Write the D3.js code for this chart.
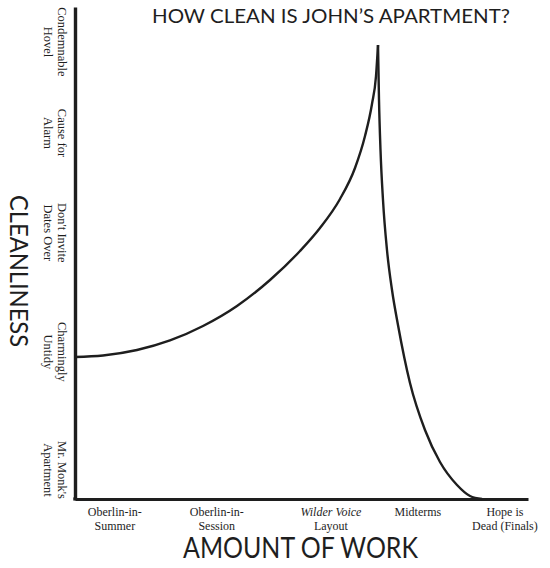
<!DOCTYPE html>
<html><head><meta charset="utf-8">
<script src="https://cdn.jsdelivr.net/npm/d3@7"></script>
<style>body{margin:0;background:#fff}svg{display:block}</style>
</head><body><svg id="c" width="550" height="568"></svg>
<script>
// ---- data ----
const xCategories = [["Oberlin-in-","Summer"],["Oberlin-in-","Session"],["Wilder Voice","Layout"],["Midterms"],["Hope is","Dead (Finals)"]];
const xCategoryPos = [8.8, 31.3, 56.5, 75.7, 94.9];
const yCategories = [["Mr. Monk's","Apartment"],["Charmingly","Untidy"],["Don't Invite","Dates Over"],["Cause for","Alarm"],["Condemnable","Hovel"]];
const yCategoryPos = [5.9, 29.9, 54.1, 74.4, 92.9];
// rising branch (work, cleanliness)
const riseWork  = [0, 6.18, 13.69, 20.97, 28.26, 35.76, 43.05, 49.67, 54.08, 58.50, 61.81, 64.02, 65.56, 66.45, 66.89];
const riseClean = [28.86, 29.17, 30.28, 32.22, 35.16, 39.23, 44.51, 50.41, 55.08, 60.98, 67.28, 73.78, 80.28, 85.98, 92.28];
// falling branch
const fallWork  = [66.89, 67.11, 67.44, 67.99, 68.87, 69.98, 71.30, 73.95, 77.26, 80.57, 84.33, 87.20, 89.85];
const fallClean = [92.28, 81.10, 70.93, 60.77, 50.61, 42.48, 35.37, 23.58, 14.02, 7.52, 2.85, 0.61, 0];
const title = "HOW CLEAN IS JOHN\u2019S APARTMENT?";
const xTitle = "AMOUNT OF WORK";
const yTitle = "CLEANLINESS";

// ---- drawing ----
const svg = d3.select("#c");
const ink = "#1e1e1e";
const x = d3.scaleLinear().domain([0,100]).range([75,528]);
const y = d3.scaleLinear().domain([0,100]).range([499,7]);
const sans = "Lato, 'Open Sans', sans-serif";
const serif = "'Liberation Serif', 'DejaVu Serif', serif";

// axes (lines only)
const gx = svg.append("g").attr("transform",`translate(0,${y(0)})`)
  .call(d3.axisBottom(x).tickValues([]).tickSize(0).tickSizeOuter(0));
gx.select(".domain").attr("stroke",ink).attr("stroke-width",3.2);
const gy = svg.append("g").attr("transform",`translate(${x(0)},0)`)
  .call(d3.axisLeft(y).tickValues([]).tickSize(0).tickSizeOuter(0));
gy.select(".domain").attr("stroke",ink).attr("stroke-width",3.4);
svg.append("rect").attr("x",x(0)-1.7).attr("y",y(0)-1.6).attr("width",3.4).attr("height",3.2).attr("fill",ink);

// curve
const line = d3.line().x(d=>x(d[0])).y(d=>y(d[1])).curve(d3.curveMonotoneX);
const rise = riseWork.map((w,i)=>[w,riseClean[i]]);
const fall = fallWork.map((w,i)=>[w,fallClean[i]]);
[rise,fall].forEach(s=>{
  svg.append("path").attr("d",line(s)).attr("fill","none").attr("stroke",ink)
    .attr("stroke-width",2.4).attr("stroke-linejoin","round").attr("stroke-linecap","butt");
});

// x labels
xCategories.forEach((lines,i)=>{
  const t = svg.append("text").attr("text-anchor","middle").attr("font-family",serif)
    .attr("font-size",12).attr("fill",ink);
  lines.forEach((l,j)=>{
    const ts = t.append("tspan").attr("x",x(xCategoryPos[i])).attr("y",516+j*13.5).text(l);
    if(l==="Wilder Voice") ts.attr("font-style","italic");
  });
});

// y labels (rotated, reading downward)
yCategories.forEach((lines,i)=>{
  lines.forEach((l,j)=>{
    svg.append("text").attr("transform",`translate(${58-j*14.5},${y(yCategoryPos[i])}) rotate(90)`)
      .attr("text-anchor","middle").attr("font-family",serif).attr("font-size",12.5)
      .attr("fill",ink).text(l);
  });
});

// titles
svg.append("text").attr("x",152).attr("y",23).attr("font-family",sans).attr("font-size",19)
  .attr("fill",ink).attr("textLength",358).attr("lengthAdjust","spacingAndGlyphs").text(title);
svg.append("text").attr("x",183).attr("y",558).attr("font-family",sans).attr("font-size",28)
  .attr("fill",ink).attr("textLength",235).attr("lengthAdjust","spacingAndGlyphs").text(xTitle);
svg.append("text").attr("transform","translate(10,195) rotate(90)").attr("font-family",sans)
  .attr("font-size",25).attr("fill",ink).attr("textLength",152).attr("lengthAdjust","spacingAndGlyphs").text(yTitle);
</script></body></html>
